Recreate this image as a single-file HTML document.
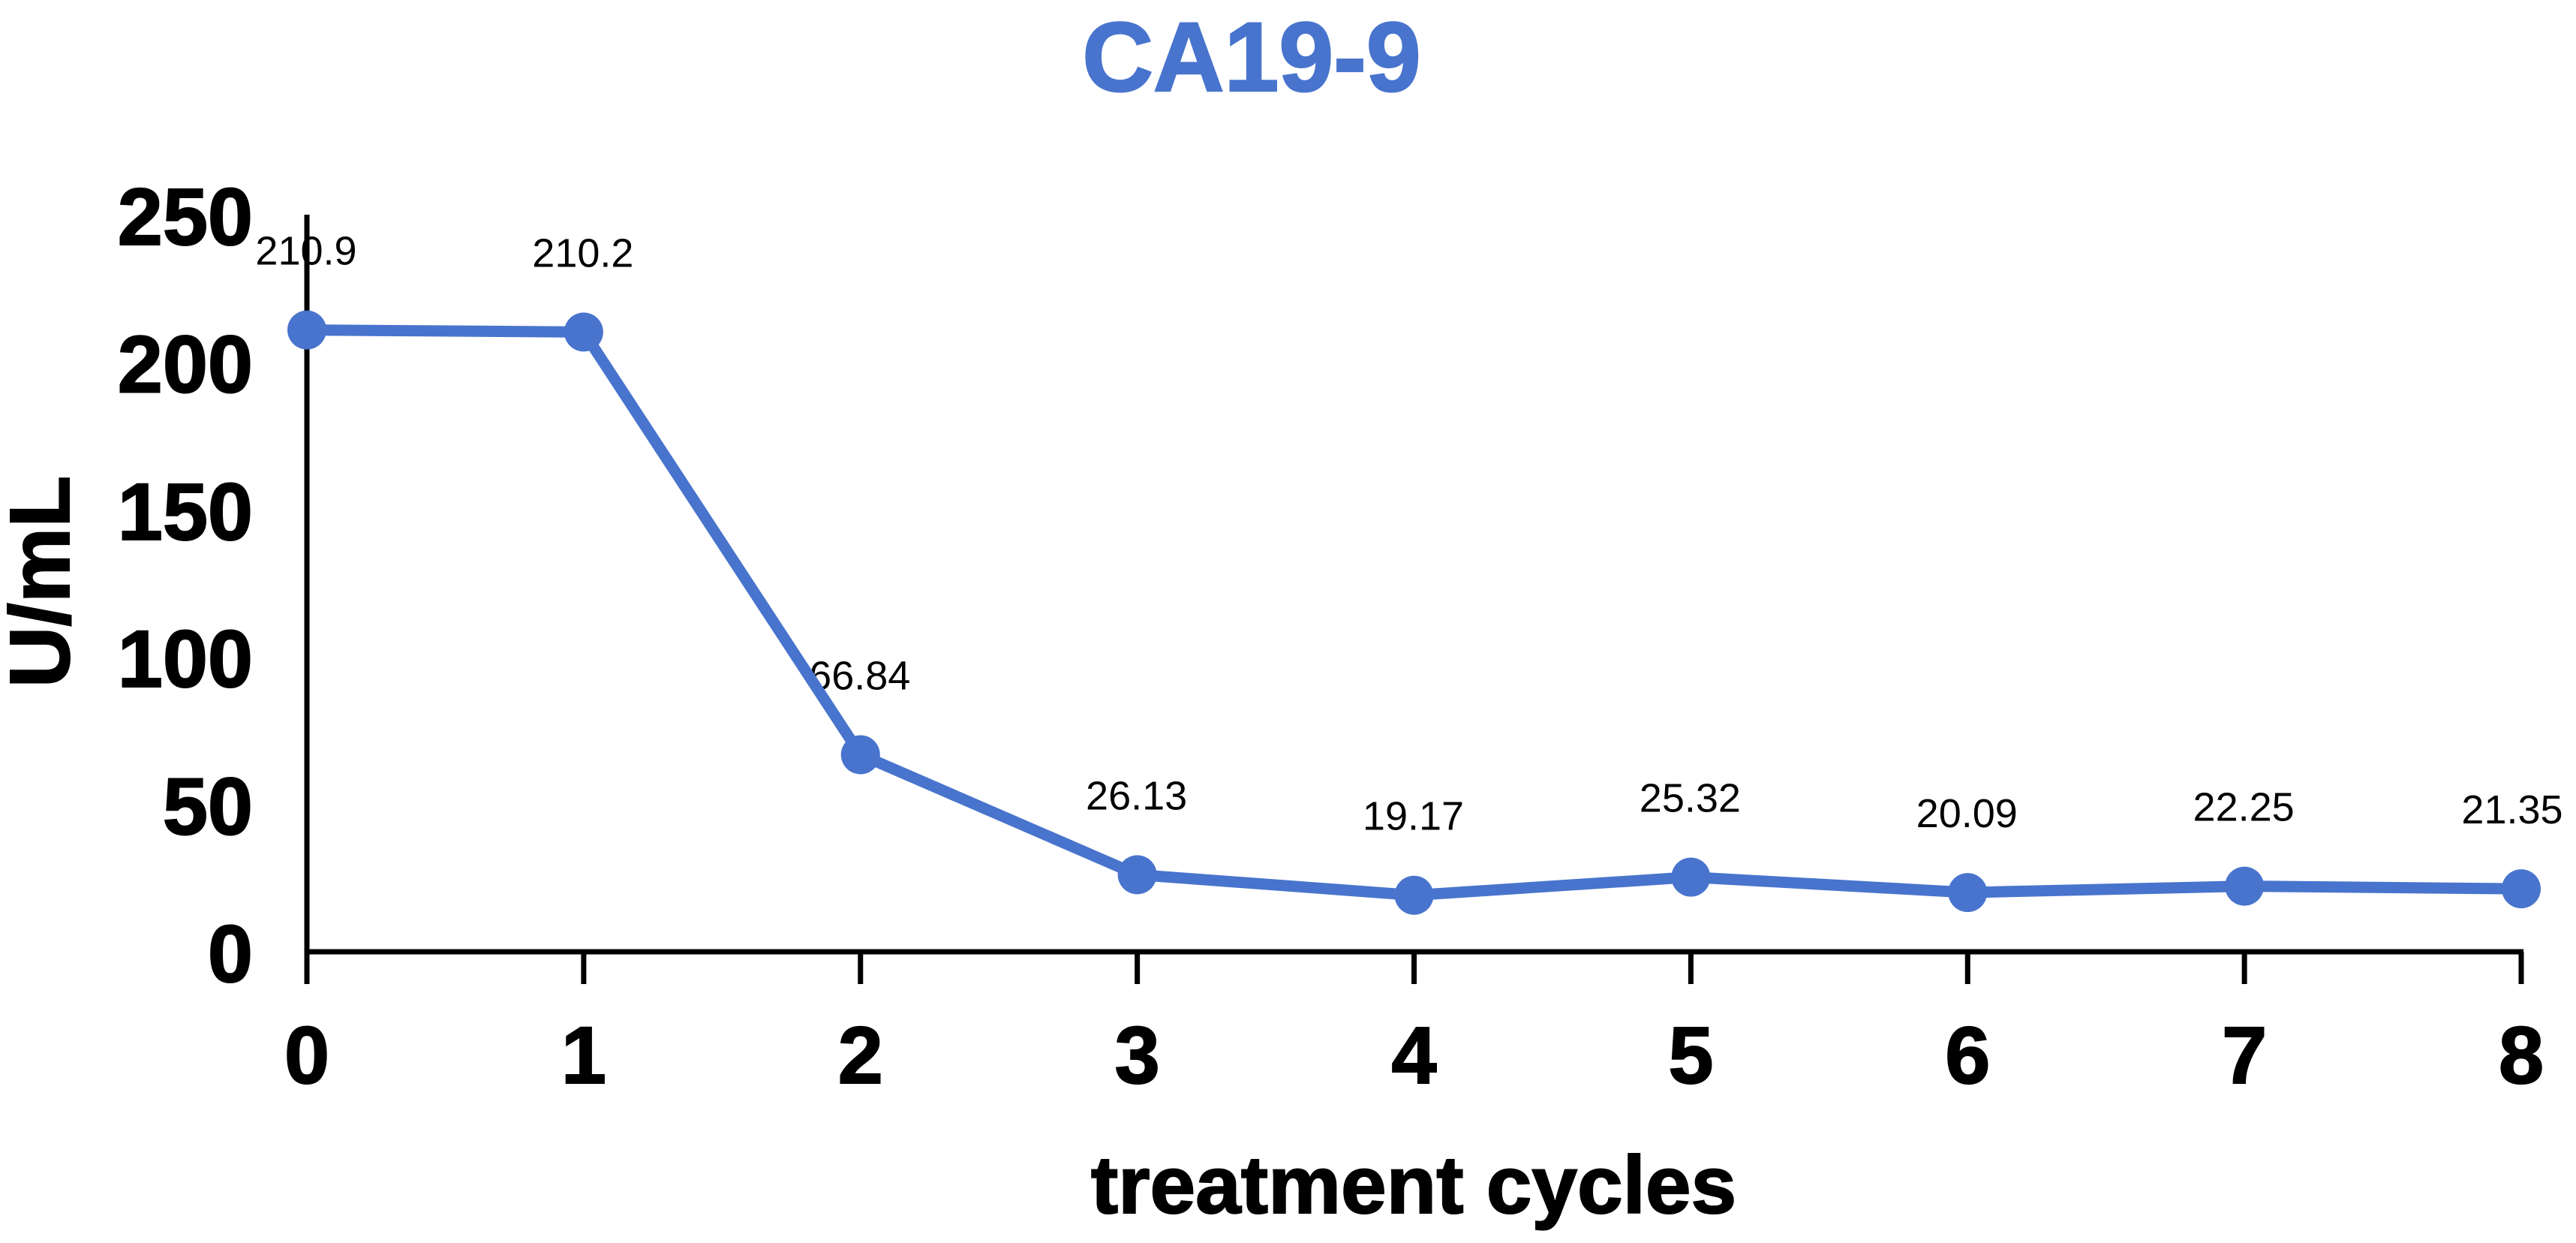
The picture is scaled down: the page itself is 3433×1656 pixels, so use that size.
<!DOCTYPE html>
<html lang="en">
<head>
<meta charset="utf-8">
<title>CA19-9</title>
<style>
html,body{margin:0;padding:0;background:#fff;}
svg{display:block;font-family:"Liberation Sans",Arial,sans-serif;}
</style>
</head>
<body>
<svg id="chart" xmlns="http://www.w3.org/2000/svg" width="3433" height="1656" viewBox="0 0 3433 1656">
<rect x="0" y="0" width="3433" height="1656" fill="#ffffff"/>
<text x="1668" y="121" font-size="131" font-weight="700" fill="#4874cd" stroke="#4874cd" stroke-width="2.5" text-anchor="middle">CA19-9</text>
<text transform="translate(92 775) rotate(-90)" font-size="113" font-weight="700" fill="#000" stroke="#000" stroke-width="2" text-anchor="middle">U/mL</text>
<text x="1884" y="1616" font-size="109" font-weight="700" fill="#000" stroke="#000" stroke-width="2" text-anchor="middle">treatment cycles</text>
<g id="labels"></g>
<g id="axes"></g>
<g id="series"></g>
</svg>
<script>
const cycles = [0, 1, 2, 3, 4, 5, 6, 7, 8];
const ca199Values = [210.9, 210.2, 66.84, 26.13, 19.17, 25.32, 20.09, 22.25, 21.35];
const valueLabels = ["210.9", "210.2", "66.84", "26.13", "19.17", "25.32", "20.09", "22.25", "21.35"];
const yTicks = [0, 50, 100, 150, 200, 250];

const NS = 'http://www.w3.org/2000/svg';
const X0 = 409, X1 = 3360, Y0 = 1268, Y1 = 286;
const xScale = c => X0 + (c - cycles[0]) / (cycles[cycles.length - 1] - cycles[0]) * (X1 - X0);
const yScale = v => Y0 - v / yTicks[yTicks.length - 1] * (Y0 - Y1);
const BLUE = '#4874cd';

function make(tag, attrs, parent, text) {
  const el = document.createElementNS(NS, tag);
  for (const k in attrs) el.setAttribute(k, attrs[k]);
  if (text !== undefined) el.textContent = text;
  parent.appendChild(el);
  return el;
}

const axes = document.getElementById('axes');
const labels = document.getElementById('labels');
const series = document.getElementById('series');

const yAxisLine = make('line', {x1: X0, y1: Y1, x2: X0, y2: Y0 + 43, stroke: '#000', 'stroke-width': 7}, axes);



const xAxisLine = make('line', {x1: X0, y1: Y0, x2: X1 + 3, y2: Y0, stroke: '#000', 'stroke-width': 7}, axes);



yTicks.forEach(t => {
  const tickLabel = make('text', {x: 337, y: yScale(t) + 40, 'font-size': 108, 'font-weight': 700, fill: '#000', stroke: '#000', 'stroke-width': 2, 'text-anchor': 'end'}, axes, String(t));
  
  
});

cycles.forEach(c => {
  const x = xScale(c);
  const tick = make('line', {x1: x, y1: Y0, x2: x, y2: Y0 + 43, stroke: '#000', 'stroke-width': 7}, axes);
  
  
  const tickLabel = make('text', {x: x, y: 1443, 'font-size': 108, 'font-weight': 700, fill: '#000', stroke: '#000', 'stroke-width': 2, 'text-anchor': 'middle'}, axes, String(c));
  
  
});

const path = cycles.map((c, i) => (i ? 'L' : 'M') + xScale(c) + ' ' + yScale(ca199Values[i])).join(' ');
const seriesLine = make('path', {d: path, fill: 'none', stroke: BLUE, 'stroke-width': 15, 'stroke-linejoin': 'round'}, series);



cycles.forEach((c, i) => {
  const x = xScale(c), y = yScale(ca199Values[i]);
  const point = make('circle', {cx: x, cy: y, r: 26, fill: BLUE}, series);
  
  
  const label = make('text', {x: Math.min(x, 3349) - 1, y: y - 87, 'font-size': 54, fill: '#000', 'text-anchor': 'middle'}, labels, valueLabels[i]);
  
  
});
</script>
</body>
</html>
